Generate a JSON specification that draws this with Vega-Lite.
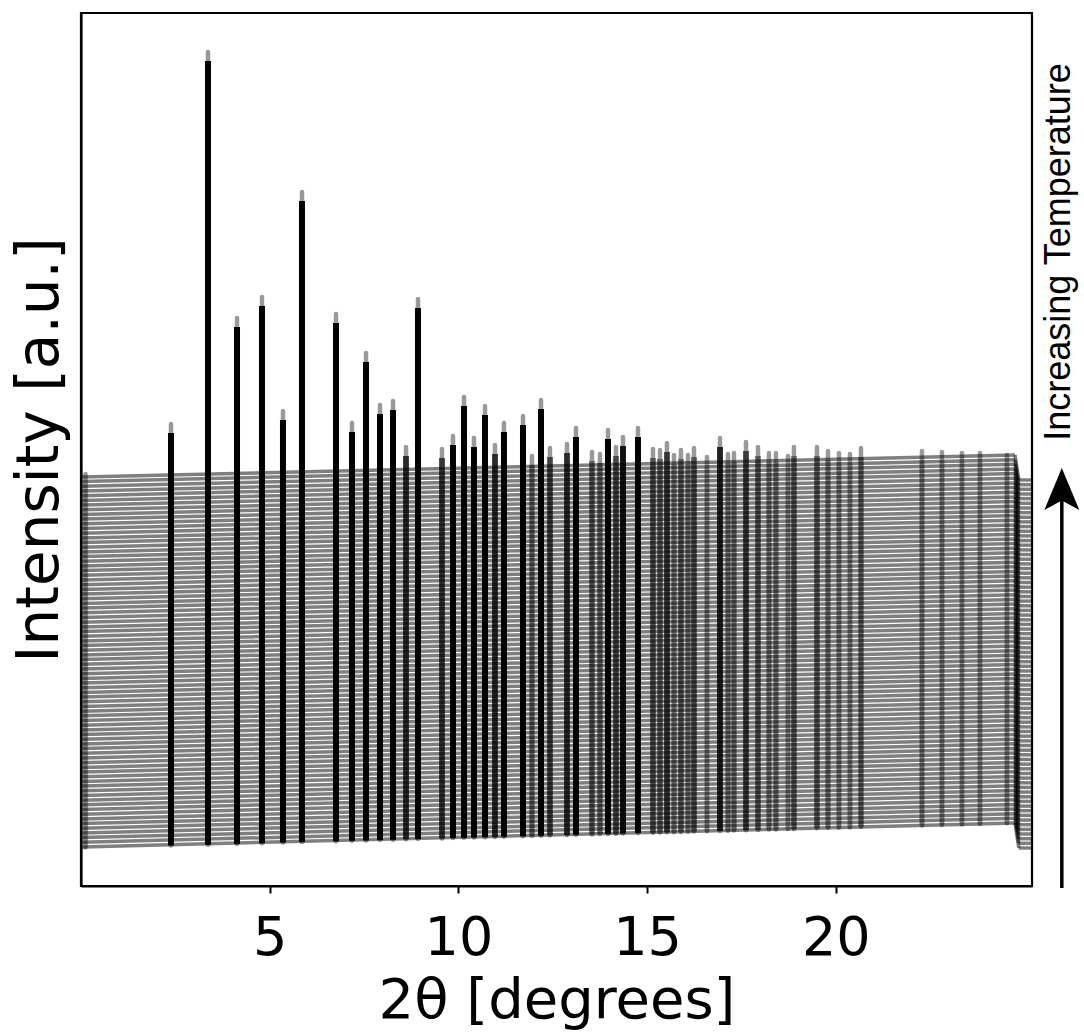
{
"$schema": "https://vega.github.io/schema/vega-lite/v6.json",
"width": 951, "height": 873,
"autosize": {"type": "none"},
"padding": {"left": 81, "top": 13, "right": 52, "bottom": 148},
"background": "white",
"config": {
 "view": {"stroke": "black", "strokeWidth": 2.2},
 "axis": {"grid": false, "domainColor": "black", "domainWidth": 2.2, "tickColor": "black", "labelColor": "black", "titleColor": "black", "labelFont": "DejaVu Sans", "titleFont": "DejaVu Sans", "titleFontWeight": "normal"}
},
"datasets": {
 "curves": [
{"yl":39.0,"yr":63.0,"yd":38.0},{"yl":43.7,"yr":67.7,"yd":42.7},{"yl":48.4,"yr":72.3,"yd":47.3},{"yl":53.1,"yr":77.0,"yd":52.0},{"yl":57.7,"yr":81.6,"yd":56.6},
{"yl":62.4,"yr":86.3,"yd":61.3},{"yl":67.1,"yr":90.9,"yd":65.9},{"yl":71.8,"yr":95.6,"yd":70.6},{"yl":76.5,"yr":100.3,"yd":75.3},{"yl":81.2,"yr":104.9,"yd":79.9},
{"yl":85.8,"yr":109.6,"yd":84.6},{"yl":90.5,"yr":114.2,"yd":89.2},{"yl":95.2,"yr":118.9,"yd":93.9},{"yl":99.9,"yr":123.6,"yd":98.6},{"yl":104.6,"yr":128.2,"yd":103.2},
{"yl":109.3,"yr":132.9,"yd":107.9},{"yl":113.9,"yr":137.5,"yd":112.5},{"yl":118.6,"yr":142.2,"yd":117.2},{"yl":123.3,"yr":146.8,"yd":121.8},{"yl":128.0,"yr":151.5,"yd":126.5},
{"yl":132.7,"yr":156.2,"yd":131.2},{"yl":137.4,"yr":160.8,"yd":135.8},{"yl":142.0,"yr":165.5,"yd":140.5},{"yl":146.7,"yr":170.1,"yd":145.1},{"yl":151.4,"yr":174.8,"yd":149.8},
{"yl":156.1,"yr":179.5,"yd":154.5},{"yl":160.8,"yr":184.1,"yd":159.1},{"yl":165.5,"yr":188.8,"yd":163.8},{"yl":170.2,"yr":193.4,"yd":168.4},{"yl":174.8,"yr":198.1,"yd":173.1},
{"yl":179.5,"yr":202.7,"yd":177.7},{"yl":184.2,"yr":207.4,"yd":182.4},{"yl":188.9,"yr":212.1,"yd":187.1},{"yl":193.6,"yr":216.7,"yd":191.7},{"yl":198.3,"yr":221.4,"yd":196.4},
{"yl":202.9,"yr":226.0,"yd":201.0},{"yl":207.6,"yr":230.7,"yd":205.7},{"yl":212.3,"yr":235.3,"yd":210.3},{"yl":217.0,"yr":240.0,"yd":215.0},{"yl":221.7,"yr":244.7,"yd":219.7},
{"yl":226.4,"yr":249.3,"yd":224.3},{"yl":231.0,"yr":254.0,"yd":229.0},{"yl":235.7,"yr":258.6,"yd":233.6},{"yl":240.4,"yr":263.3,"yd":238.3},{"yl":245.1,"yr":268.0,"yd":243.0},
{"yl":249.8,"yr":272.6,"yd":247.6},{"yl":254.5,"yr":277.3,"yd":252.3},{"yl":259.1,"yr":281.9,"yd":256.9},{"yl":263.8,"yr":286.6,"yd":261.6},{"yl":268.5,"yr":291.2,"yd":266.2},
{"yl":273.2,"yr":295.9,"yd":270.9},{"yl":277.9,"yr":300.6,"yd":275.6},{"yl":282.6,"yr":305.2,"yd":280.2},{"yl":287.3,"yr":309.9,"yd":284.9},{"yl":291.9,"yr":314.5,"yd":289.5},
{"yl":296.6,"yr":319.2,"yd":294.2},{"yl":301.3,"yr":323.8,"yd":298.8},{"yl":306.0,"yr":328.5,"yd":303.5},{"yl":310.7,"yr":333.2,"yd":308.2},{"yl":315.4,"yr":337.8,"yd":312.8},
{"yl":320.0,"yr":342.5,"yd":317.5},{"yl":324.7,"yr":347.1,"yd":322.1},{"yl":329.4,"yr":351.8,"yd":326.8},{"yl":334.1,"yr":356.5,"yd":331.5},{"yl":338.8,"yr":361.1,"yd":336.1},
{"yl":343.5,"yr":365.8,"yd":340.8},{"yl":348.1,"yr":370.4,"yd":345.4},{"yl":352.8,"yr":375.1,"yd":350.1},{"yl":357.5,"yr":379.7,"yd":354.7},{"yl":362.2,"yr":384.4,"yd":359.4},
{"yl":366.9,"yr":389.1,"yd":364.1},{"yl":371.6,"yr":393.7,"yd":368.7},{"yl":376.2,"yr":398.4,"yd":373.4},{"yl":380.9,"yr":403.0,"yd":378.0},{"yl":385.6,"yr":407.7,"yd":382.7},
{"yl":390.3,"yr":412.4,"yd":387.4},{"yl":395.0,"yr":417.0,"yd":392.0},{"yl":399.7,"yr":421.7,"yd":396.7},{"yl":404.4,"yr":426.3,"yd":401.3},{"yl":409.0,"yr":431.0,"yd":406.0}
 ],
 "peaks": [
{"x":0.12,"top":412,"base":38.5,"h":3},
{"x":2.385,"top":462,"base":40.4,"h":51},{"x":3.365,"top":834,"base":41.3,"h":422},{"x":4.134,"top":568,"base":42.1,"h":155},{"x":4.796,"top":589,"base":42.8,"h":176},
{"x":5.352,"top":475,"base":43.4,"h":61},{"x":5.856,"top":694,"base":43.9,"h":280},{"x":6.757,"top":572,"base":44.8,"h":157},{"x":7.181,"top":463,"base":45.2,"h":48},
{"x":7.552,"top":533,"base":45.6,"h":117},{"x":7.923,"top":481,"base":46.0,"h":65},{"x":8.267,"top":485,"base":46.3,"h":69},{"x":8.612,"top":439,"base":46.7,"h":22},
{"x":8.930,"top":587,"base":47.0,"h":170},{"x":9.566,"top":437,"base":47.6,"h":20},{"x":9.857,"top":450,"base":47.9,"h":32},{"x":10.149,"top":489,"base":48.2,"h":71},
{"x":10.413,"top":448,"base":48.5,"h":30},{"x":10.705,"top":480,"base":48.8,"h":62},{"x":10.970,"top":441,"base":49.0,"h":22},{"x":11.208,"top":463,"base":49.3,"h":44},
{"x":11.712,"top":470,"base":49.8,"h":51},{"x":11.950,"top":430,"base":50.0,"h":10},{"x":12.189,"top":486,"base":50.3,"h":66},{"x":12.427,"top":438,"base":50.5,"h":18},
{"x":12.878,"top":442,"base":51.0,"h":22},{"x":13.116,"top":458,"base":51.2,"h":37},{"x":13.540,"top":434,"base":51.6,"h":13},{"x":13.752,"top":432,"base":51.9,"h":11},
{"x":13.964,"top":456,"base":52.1,"h":35},{"x":14.176,"top":439,"base":52.3,"h":17},{"x":14.362,"top":449,"base":52.5,"h":27},{"x":14.759,"top":458,"base":52.9,"h":36},
{"x":15.156,"top":437,"base":53.3,"h":15},{"x":15.342,"top":436,"base":53.5,"h":13},{"x":15.527,"top":443,"base":53.7,"h":20},{"x":15.713,"top":431,"base":53.8,"h":8},
{"x":15.898,"top":436,"base":54.0,"h":13},{"x":16.084,"top":431,"base":54.2,"h":8},{"x":16.243,"top":438,"base":54.4,"h":15},{"x":16.587,"top":429,"base":54.7,"h":5},
{"x":16.932,"top":448,"base":55.1,"h":24},{"x":17.144,"top":432,"base":55.3,"h":8},{"x":17.303,"top":433,"base":55.4,"h":9},{"x":17.621,"top":444,"base":55.8,"h":19},
{"x":17.939,"top":439,"base":56.1,"h":14},{"x":18.230,"top":433,"base":56.4,"h":8},{"x":18.415,"top":433,"base":56.6,"h":8},{"x":18.733,"top":430,"base":56.9,"h":4},
{"x":18.892,"top":439,"base":57.1,"h":13},{"x":19.502,"top":439,"base":57.7,"h":13},{"x":19.793,"top":435,"base":58.0,"h":8},{"x":20.085,"top":433,"base":58.3,"h":6},
{"x":20.376,"top":432,"base":58.6,"h":5},{"x":20.668,"top":438,"base":58.9,"h":11},{"x":22.284,"top":435,"base":60.5,"h":6},{"x":22.814,"top":434,"base":61.0,"h":5},
{"x":23.344,"top":433,"base":61.6,"h":3},{"x":23.821,"top":433,"base":62.0,"h":3},{"x":24.536,"top":431,"base":62.8,"h":2}
 ]
},
"layer": [
 {
  "data": {"name": "curves"},
  "mark": {"type": "rule", "color": "black", "opacity": 0.5, "strokeWidth": 3.5},
  "encoding": {
   "x": {"datum": 0.03, "type": "quantitative", "scale": {"domain": [0, 25.2], "nice": false, "zero": false},
         "axis": {"title": "2θ [degrees]", "values": [5, 10, 15, 20], "tickSize": 7, "tickWidth": 2, "labelFontSize": 54, "labelPadding": 18, "titleFontSize": 56, "titlePadding": 8}},
   "x2": {"datum": 24.75},
   "y": {"field": "yl", "type": "quantitative", "scale": {"domain": [0, 873], "nice": false, "zero": false},
         "axis": {"title": "Intensity [a.u.]", "labels": false, "ticks": false, "titleFontSize": 58, "titlePadding": 12}},
   "y2": {"field": "yr"}
  }
 },
 {
  "data": {"name": "curves"},
  "mark": {"type": "rule", "color": "black", "opacity": 0.5, "strokeWidth": 3.5},
  "encoding": {
   "x": {"datum": 24.75, "type": "quantitative"},
   "x2": {"datum": 24.85},
   "y": {"field": "yr", "type": "quantitative"},
   "y2": {"field": "yd"}
  }
 },
 {
  "data": {"name": "curves"},
  "mark": {"type": "rule", "color": "black", "opacity": 0.5, "strokeWidth": 3.5, "clip": true},
  "encoding": {
   "x": {"datum": 24.85, "type": "quantitative"},
   "x2": {"datum": 25.5},
   "y": {"field": "yd", "type": "quantitative"},
   "y2": {"field": "yd"}
  }
 },
 {
  "data": {"name": "peaks"},
  "mark": {"type": "rule", "color": "black", "opacity": 0.4, "strokeWidth": 4.5, "strokeCap": "round"},
  "encoding": {
   "x": {"field": "x", "type": "quantitative"},
   "y": {"field": "base", "type": "quantitative"},
   "y2": {"field": "top"}
  }
 },
 {
  "data": {"name": "peaks"},
  "mark": {"type": "rule", "color": "black", "strokeWidth": 6, "y2Offset": 9},
  "encoding": {
   "x": {"field": "x", "type": "quantitative"},
   "y": {"field": "base", "type": "quantitative"},
   "y2": {"field": "top"},
   "opacity": {"field": "h", "type": "quantitative", "scale": {"domain": [4, 30], "range": [0.08, 1], "clamp": true}, "legend": null}
  }
 },
 {
  "data": {"values": [{"y0": -2, "y1": 388}]},
  "mark": {"type": "rule", "color": "black", "strokeWidth": 3.5},
  "encoding": {
   "x": {"datum": 25.99, "type": "quantitative"},
   "y": {"field": "y0", "type": "quantitative"},
   "y2": {"field": "y1"}
  }
 },
 {
  "data": {"values": [{"tip": 397}]},
  "mark": {"type": "point", "shape": "M0,-1L0.833,1L0,0.55L-0.833,1Z", "filled": true, "color": "black", "opacity": 1, "size": 1764, "strokeWidth": 0},
  "encoding": {
   "x": {"datum": 25.99, "type": "quantitative"},
   "y": {"field": "tip", "type": "quantitative"}
  }
 },
 {
  "data": {"values": [{"t": "Increasing Temperature"}]},
  "mark": {"type": "text", "angle": 270, "font": "Liberation Sans", "fontSize": 36, "color": "black", "align": "center", "baseline": "middle"},
  "encoding": {
   "x": {"datum": 25.92, "type": "quantitative"},
   "y": {"datum": 634, "type": "quantitative"},
   "text": {"field": "t"}
  }
 }
]
}
